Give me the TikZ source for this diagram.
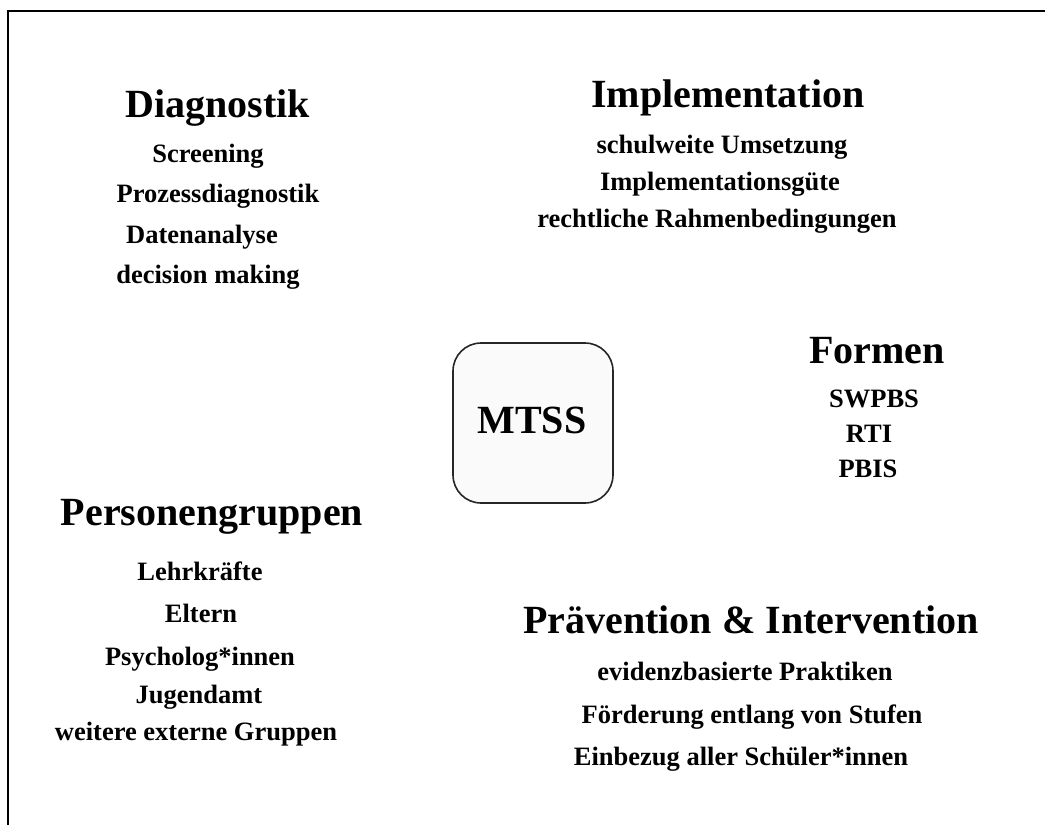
\documentclass[tikz,border=0pt]{standalone}
\usepackage{fontspec}
\setmainfont{Liberation Serif}
\tikzset{
  title/.style={anchor=base, inner sep=0pt, font=\fontsize{40}{48}\selectfont\bfseries},
  item/.style={anchor=base, inner sep=0pt, font=\fontsize{26.5}{32}\selectfont\bfseries},
  centerbox/.style={draw=black!85, line width=1.6pt, fill=black!2, rounded corners=28pt,
    minimum width=160pt, minimum height=160pt, inner sep=0pt},
  frameline/.style={line width=2pt, black}
}
\begin{document}
\begin{tikzpicture}[x=1pt,y=-1pt]
\useasboundingbox (0,0) rectangle (1045,825);
\coordinate (fa) at (7.5,825);
\coordinate (fb) at (7.5,11);
\coordinate (fc) at (1045,11);
\draw[frameline] (fa) -- (fb) -- (fc);

% center
\node[centerbox] (box) at (533,423) {};
\node[title] (mtss) at (532,433) {MTSS};

% Diagnostik
\node[title] (diag) at (218,117) {Diagnostik};
\node[item] (d1) at (208,162) {Screening};
\node[item] (d2) at (218,202) {Prozessdiagnostik};
\node[item] (d3) at (202,243) {Datenanalyse};
\node[item] (d4) at (208,283) {decision making};

% Implementation
\node[title] (impl) at (728,107) {Implementation};
\node[item] (i1) at (722,153) {schulweite Umsetzung};
\node[item] (i2) at (720,190) {Implementationsgüte};
\node[item] (i3) at (717,227) {rechtliche Rahmenbedingungen};

% Formen
\node[title] (form) at (877,363) {Formen};
\node[item] (f1) at (874,407) {SWPBS};
\node[item] (f2) at (869,442) {RTI};
\node[item] (f3) at (868,477) {PBIS};

% Personengruppen
\node[title] (pers) at (212,525) {Personengruppen};
\node[item] (p1) at (200,580) {Lehrkräfte};
\node[item] (p2) at (201,622) {Eltern};
\node[item] (p3) at (200,665) {Psycholog*innen};
\node[item] (p4) at (199,703) {Jugendamt};
\node[item] (p5) at (196,740) {weitere externe Gruppen};

% Praevention
\node[title] (prae) at (751,633) {Prävention \& Intervention};
\node[item] (v1) at (745,680) {evidenzbasierte Praktiken};
\node[item] (v2) at (752,723) {Förderung entlang von Stufen};
\node[item] (v3) at (741,765) {Einbezug aller Schüler*innen};
\end{tikzpicture}
\end{document}
